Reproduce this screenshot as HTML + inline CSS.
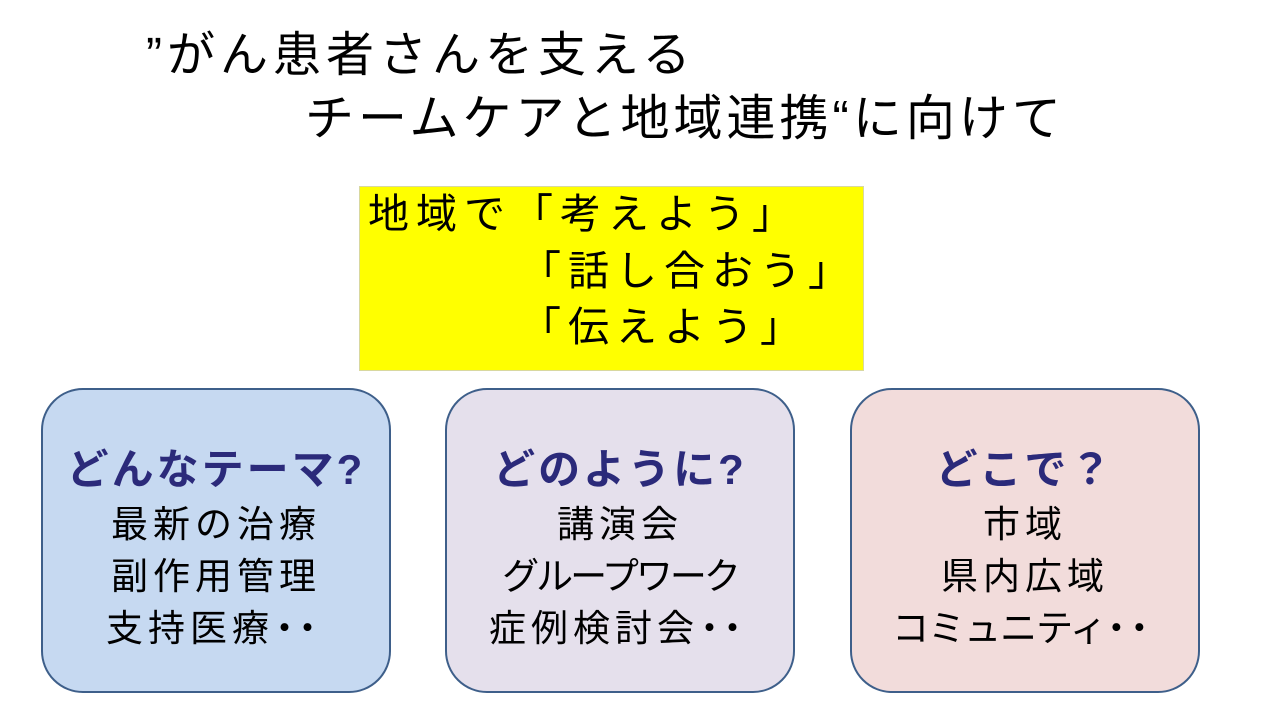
<!DOCTYPE html>
<html><head><meta charset="utf-8"><style>
body{margin:0;width:1280px;height:720px;background:#fff;position:relative;overflow:hidden;font-family:"Liberation Sans","Noto Sans CJK JP",sans-serif;}
.t{position:absolute;white-space:nowrap;line-height:1;}
.box{position:absolute;top:388px;width:346px;height:301px;border:2.5px solid #3e5f8a;border-radius:42px;}
.h{position:absolute;left:0;width:100%;text-align:center;font-weight:bold;color:#2b2a7a;font-size:42px;line-height:1;letter-spacing:3px;}
.i{position:absolute;left:0;width:100%;text-align:center;color:#000;font-size:37px;line-height:1;letter-spacing:5px;}
.d{letter-spacing:-14px;margin-left:-8px;margin-right:14px;}
</style></head><body>
<div class="t" style="left:146px;top:32px;font-size:48px;letter-spacing:5px;">”がん患者さんを支える</div>
<div class="t" style="left:305px;top:95px;font-size:49px;letter-spacing:4px;">チームケアと地域連携“に向けて</div>
<div style="position:absolute;left:359px;top:186px;width:503px;height:183px;background:#ffff00;border:1px solid #d8d8a0;"></div>
<div class="t" style="left:368px;top:194px;font-size:41px;letter-spacing:7px;">地域で「考えよう」</div>
<div class="t" style="left:520px;top:251px;font-size:41px;letter-spacing:7px;">「話し合おう」</div>
<div class="t" style="left:520px;top:307px;font-size:41px;letter-spacing:7px;">「伝えよう」</div>

<div class="box" style="left:41px;background:#c6d9f1;">
<div class="h" style="top:59px;">どんなテーマ?</div>
<div class="i" style="top:116px;">最新の治療</div>
<div class="i" style="top:168px;">副作用管理</div>
<div class="i" style="top:220px;">支持医療<span class="d">・・</span></div>
</div>
<div class="box" style="left:445px;background:#e5e0ec;">
<div class="h" style="top:59px;">どのように?</div>
<div class="i" style="top:116px;">講演会</div>
<div class="i" style="top:168px;letter-spacing:-3px;">グループワーク</div>
<div class="i" style="top:220px;">症例検討会<span class="d">・・</span></div>
</div>
<div class="box" style="left:850px;background:#f2dcdb;">
<div class="h" style="top:59px;">どこで？</div>
<div class="i" style="top:116px;">市域</div>
<div class="i" style="top:168px;">県内広域</div>
<div class="i" style="top:220px;letter-spacing:-1px;">コミュニティ<span class="d">・・</span></div>
</div>
</body></html>
